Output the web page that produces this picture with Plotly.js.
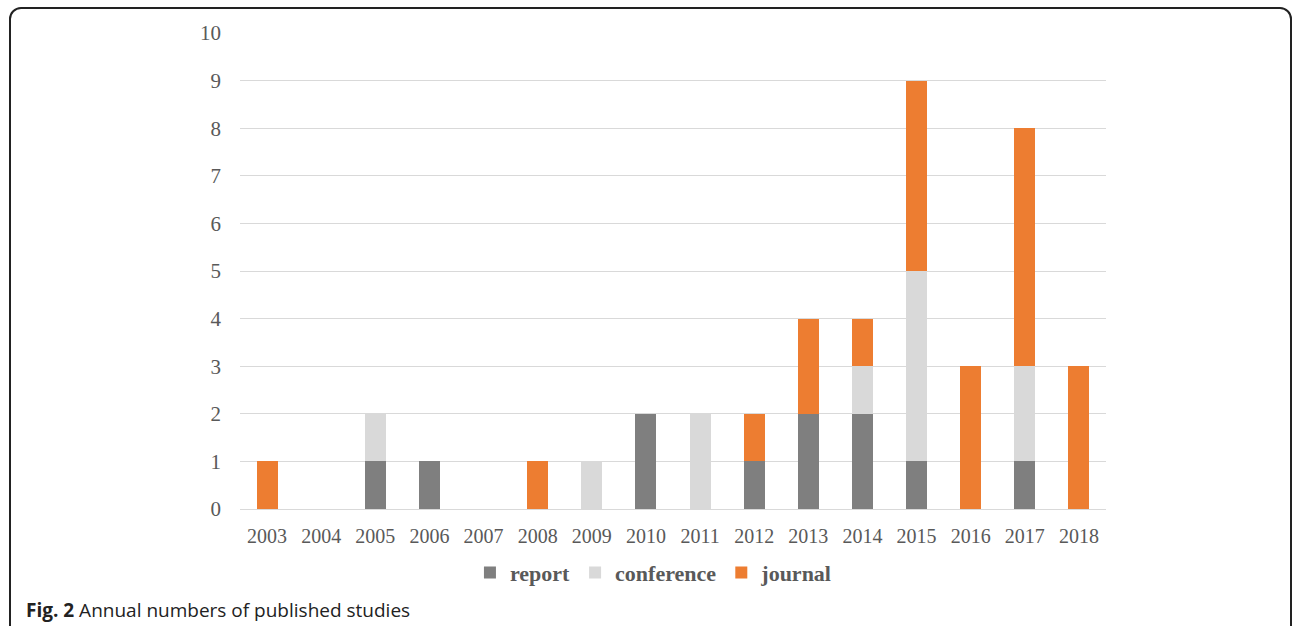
<!DOCTYPE html>
<html>
<head>
<meta charset="utf-8">
<script src="https://cdn.plot.ly/plotly-3.0.1.min.js"></script>
<style>
  html, body { margin: 0; padding: 0; background: #fff; }
  #wrap { position: relative; width: 1292px; height: 626px; overflow: hidden; }
  #chart { position: absolute; left: 0; top: 0; width: 1292px; height: 626px; }
  #frame { position: absolute; left: 9px; top: 7px; width: 1283px; height: 640px;
           border: 2px solid #222; border-radius: 12px; pointer-events: none; box-sizing: border-box; }
</style>
</head>
<body>
<div id="wrap">
  <div id="chart"></div>
  <div id="frame"></div>
</div>
<script>
const years = ['2003','2004','2005','2006','2007','2008','2009','2010','2011','2012','2013','2014','2015','2016','2017','2018'];
const report     = [0,0,1,1,0,0,0,2,0,1,2,2,1,0,1,0];
const conference = [0,0,1,0,0,0,1,0,2,0,0,1,4,0,2,0];
const journal    = [1,0,0,0,0,1,0,0,0,1,2,1,4,3,5,3];
const seriesNames = ['report','conference','journal'];
const colors = ['#7f7f7f','#d9d9d9','#ed7d31'];

const data = [report, conference, journal].map((vals, i) => ({
  type: 'bar', x: years, y: vals, name: seriesNames[i],
  marker: { color: colors[i] }, hoverinfo: 'x+y+name'
}));

const serif = 'Liberation Serif, Times New Roman, serif';
const layout = {
  width: 1292, height: 626,
  margin: { l: 240, r: 186, t: 33, b: 117 },
  barmode: 'stack', bargap: 0.61,
  paper_bgcolor: '#ffffff', plot_bgcolor: '#ffffff',
  font: { family: serif, color: '#595959', size: 20 },
  xaxis: { type: 'category', showgrid: false, zeroline: false, showline: false,
           ticks: '', ticklabelstandoff: 13,
           tickfont: { family: serif, size: 20, color: '#595959' } },
  yaxis: { range: [0, 10], dtick: 1, showgrid: true, gridcolor: '#d9d9d9', gridwidth: 1,
           zeroline: true, zerolinecolor: '#d9d9d9', showline: false, ticks: '',
           ticklabelstandoff: 18,
           tickfont: { family: serif, size: 21, color: '#595959' } },
  showlegend: true,
  legend: { orientation: 'h', x: 0.478, xanchor: 'center', y: -0.134, yanchor: 'middle',
            font: { family: serif, size: 22, color: '#595959', weight: 'bold' },
            traceorder: 'normal' },
  annotations: [{
    xref: 'paper', yref: 'paper', x: -0.249, y: -0.213, xanchor: 'left', yanchor: 'middle',
    showarrow: false, align: 'left',
    text: '<b>Fig. 2</b> Annual numbers of published studies',
    font: { family: 'Open Sans, Noto Sans, sans-serif', size: 19, color: '#222' }
  }]
};
Plotly.newPlot('chart', data, layout, { displayModeBar: false, staticPlot: true });
</script>
</body>
</html>
